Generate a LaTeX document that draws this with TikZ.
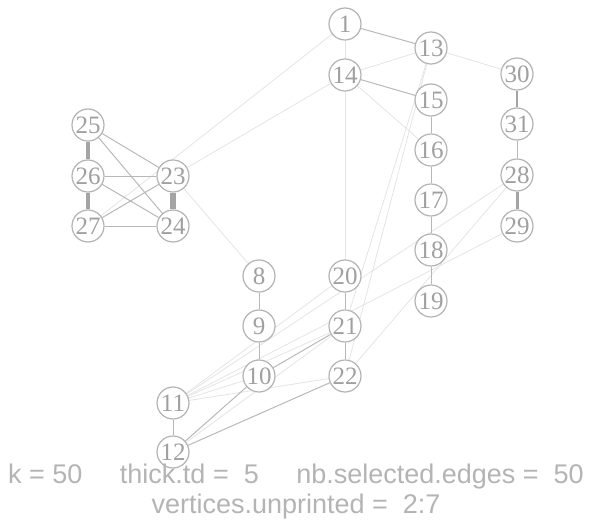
\documentclass[tikz,border=0pt]{standalone}
\usepackage{fontspec}
\setmainfont{Liberation Serif}
\newfontfamily\annotfont{Liberation Sans}
\usetikzlibrary{positioning,backgrounds}
\definecolor{vertgray}{HTML}{B4B4B4}
\definecolor{labgray}{HTML}{A0A0A0}
\definecolor{edgemid}{HTML}{B8B8B8}
\definecolor{edgefaint}{HTML}{E4E4E4}
\definecolor{edgedark}{HTML}{A4A4A4}
\definecolor{textgray}{HTML}{B4B4B4}
\tikzset{
    %Define style for vertices
    vert/.style={
           circle,
           draw=vertgray, line width=1.2pt,
           fill=white,
           minimum size=32pt,
           inner sep=0pt,
           text=labgray,
           font=\fontsize{25}{25}\selectfont},
    % Define edge styles
    thinedge/.style={
           draw=edgefaint,
           line width=0.8pt},
    midedge/.style={
           draw=edgemid,
           line width=1pt},
    thickedge/.style={
           draw=edgedark,
           line width=#1},
    %Define style for the legend text
    annot/.style={
           anchor=base,
           inner sep=0pt,
           text=textgray,
           font=\annotfont\fontsize{27}{27}\selectfont}
}
\begin{document}
\begin{tikzpicture}[x=1pt,y=-1pt]
  \useasboundingbox (0,0) rectangle (590,522);
  % vertices
  \node[vert] (v1) at (345,24) {1};
  \node[vert] (v13) at (431,48) {13};
  \node[vert] (v14) at (345,75) {14};
  \node[vert] (v15) at (431,100) {15};
  \node[vert] (v16) at (431,150) {16};
  \node[vert] (v17) at (431,200) {17};
  \node[vert] (v18) at (431,250) {18};
  \node[vert] (v19) at (431,301) {19};
  \node[vert] (v30) at (517,74) {30};
  \node[vert] (v31) at (517,124) {31};
  \node[vert] (v28) at (517,175) {28};
  \node[vert] (v29) at (517,226) {29};
  \node[vert] (v25) at (88,125) {25};
  \node[vert] (v26) at (88,176) {26};
  \node[vert] (v27) at (88,226) {27};
  \node[vert] (v23) at (173,176) {23};
  \node[vert] (v24) at (173,226) {24};
  \node[vert] (v8) at (259,276) {8};
  \node[vert] (v9) at (259,326) {9};
  \node[vert] (v10) at (259,376) {10};
  \node[vert] (v11) at (173,403) {11};
  \node[vert] (v12) at (173,452) {12};
  \node[vert] (v20) at (345,276) {20};
  \node[vert] (v21) at (345,326) {21};
  \node[vert] (v22) at (345,376) {22};
  % edges, behind the vertices
  \begin{pgfonlayer}{background}
  \path[thinedge] (v1) edge (v14) (v1) edge (v27)
    (v13) edge (v14) (v13) edge (v30) (v13) edge (v21) (v13) edge (v22)
    (v14) edge (v16) (v14) edge (v20) (v14) edge (v23)
    (v23) edge (v8)
    (v28) edge (v11) (v29) edge (v11) (v28) edge (v22)
    (v11) edge (v20) (v11) edge (v21) (v11) edge (v10) (v11) edge (v22)
    (v12) edge (v21);
  \path[midedge] (v1) edge (v13) (v14) edge (v15)
    (v15) edge (v16) (v16) edge (v17) (v17) edge (v18) (v18) edge (v19)
    (v31) edge (v28) (v8) edge (v9) (v9) edge (v10)
    (v20) edge (v21) (v21) edge (v22)
    (v11) edge (v12) (v10) edge (v12) (v10) edge (v21) (v12) edge (v22)
    (v27) edge (v23) (v25) edge (v23) (v26) edge (v23)
    (v26) edge (v24) (v25) edge (v24) (v27) edge (v24);
  \path[thickedge=6pt] (v23) edge (v24);
  \path[thickedge=4pt] (v25) edge (v26) (v26) edge (v27);
  \path[thickedge=3pt] (v28) edge (v29);
  \path[thickedge=2.5pt] (v30) edge (v31);
  \end{pgfonlayer}
  % legend
  \node[annot] (params) at (296,483)
    {k = 50~~~~~thick.td =~~5~~~~~nb.selected.edges =~~50};
  \node[annot] (unprinted) at (296,513) {vertices.unprinted =~~2:7};
\end{tikzpicture}
\end{document}
